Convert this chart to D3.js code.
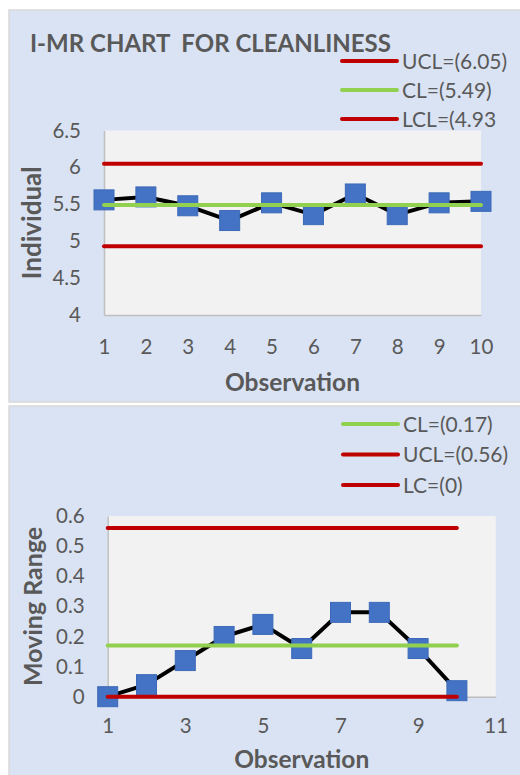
<!DOCTYPE html>
<html>
<head>
<meta charset="utf-8">
<script src="https://cdn.jsdelivr.net/npm/d3@7"></script>
<style>
  html, body { margin: 0; padding: 0; background: #ffffff; }
  svg { display: block; }
  text { font-family: Lato, "Open Sans", sans-serif; fill: #595959; }
</style>
</head>
<body>
<svg id="chart" width="520" height="775"></svg>
<script>
// ---------- data ----------
const observations = [1, 2, 3, 4, 5, 6, 7, 8, 9, 10];
const individualValues = [5.56, 5.60, 5.48, 5.28, 5.52, 5.36, 5.64, 5.36, 5.52, 5.54];
const movingRangeValues = [0, 0.04, 0.12, 0.20, 0.24, 0.16, 0.28, 0.28, 0.16, 0.02];

const iLimits = [
  { name: "UCL", value: 6.05, label: "UCL=(6.05)", color: "#c00000" },
  { name: "CL",  value: 5.49, label: "CL=(5.49)",  color: "#92d050" },
  { name: "LCL", value: 4.93, label: "LCL=(4.93",  color: "#c00000" }
];
const mrLimits = [
  { name: "CL",  value: 0.17, label: "CL=(0.17)",  color: "#92d050" },
  { name: "UCL", value: 0.56, label: "UCL=(0.56)", color: "#c00000" },
  { name: "LC",  value: 0,    label: "LC=(0)",     color: "#c00000" }
];

const iYTicks = [4, 4.5, 5, 5.5, 6, 6.5];
const iXTicks = [1, 2, 3, 4, 5, 6, 7, 8, 9, 10];
const mrYTicks = [0, 0.1, 0.2, 0.3, 0.4, 0.5, 0.6];
const mrXTicks = [1, 3, 5, 7, 9, 11];

const chartTitle = "I-MR CHART  FOR CLEANLINESS";
const iYTitle = "Individual";
const mrYTitle = "Moving Range";
const xTitle = "Observation";

// ---------- drawing ----------
const svg = d3.select("#chart");
const TEXT = "#595959";

function panel(cfg) {
  const g = svg.append("g");
  g.append("rect")
    .attr("x", cfg.panel.x).attr("y", cfg.panel.y)
    .attr("width", cfg.panel.w).attr("height", cfg.panel.h)
    .attr("fill", "#dae3f3").attr("stroke", "#d9d9d9").attr("stroke-width", 1.5);

  const x = d3.scaleLinear().domain(cfg.xDomain).range([cfg.plot.left, cfg.plot.right]);
  const y = d3.scaleLinear().domain(cfg.yDomain).range([cfg.plot.bottom, cfg.plot.top]);

  g.append("rect")
    .attr("x", cfg.plot.left).attr("y", cfg.plot.top)
    .attr("width", cfg.plot.right - cfg.plot.left)
    .attr("height", cfg.plot.bottom - cfg.plot.top)
    .attr("fill", "#f2f2f2");

  const yAxis = g.append("g")
    .attr("transform", `translate(${cfg.plot.left},0)`)
    .call(d3.axisLeft(y).tickValues(cfg.yTicks).tickSize(0).tickPadding(cfg.yPad).tickFormat(d3.format("")));
  const xAxis = g.append("g")
    .attr("transform", `translate(0,${cfg.plot.bottom})`)
    .call(d3.axisBottom(x).tickValues(cfg.xTicks).tickSize(0).tickPadding(cfg.xPad).tickFormat(d3.format("")));
  [yAxis, xAxis].forEach(a => {
    a.select(".domain").attr("stroke", "#bfbfbf").attr("stroke-width", 1.5);
    a.selectAll("text").attr("font-family", "Lato, sans-serif").attr("font-size", 20.5).attr("fill", TEXT);
  });

  const pts = observations.map((o, i) => ({ o, v: cfg.values[i] }));
  g.append("path").datum(pts)
    .attr("fill", "none").attr("stroke", "#000000").attr("stroke-width", 4)
    .attr("stroke-linejoin", "round")
    .attr("d", d3.line().x(d => x(d.o)).y(d => y(d.v)));
  const m = 20;
  g.selectAll("rect.mk").data(pts).join("rect").attr("class", "mk")
    .attr("x", d => x(d.o) - m / 2).attr("y", d => y(d.v) - m / 2)
    .attr("width", m).attr("height", m)
    .attr("fill", "#4472c4").attr("stroke", "#3d6ab8").attr("stroke-width", 1);

  const x0 = observations[0], x1 = observations[observations.length - 1];
  g.selectAll("line.lim").data(cfg.limits).join("line").attr("class", "lim")
    .attr("x1", x(x0)).attr("x2", x(x1))
    .attr("y1", d => y(d.value)).attr("y2", d => y(d.value))
    .attr("stroke", d => d.color).attr("stroke-width", 4).attr("stroke-linecap", "round");

  const lg = g.selectAll("g.lg").data(cfg.limits).join("g").attr("class", "lg")
    .attr("transform", (d, i) => `translate(${cfg.legend.x},${cfg.legend.y + i * cfg.legend.dy})`);
  lg.append("line").attr("x1", 0).attr("x2", 55).attr("y1", 0).attr("y2", 0)
    .attr("stroke", d => d.color).attr("stroke-width", 4).attr("stroke-linecap", "round");
  lg.append("text").attr("x", 60).attr("y", 0).attr("dy", "0.36em")
    .attr("font-size", 21).text(d => d.label);

  g.append("text")
    .attr("transform", `translate(${cfg.yTitle.x},${(cfg.plot.top + cfg.plot.bottom) / 2}) rotate(-90)`)
    .attr("text-anchor", "middle").attr("dy", "0.36em")
    .attr("font-size", cfg.yTitle.size).attr("font-weight", 700).text(cfg.yTitleText);
  g.append("text")
    .attr("x", (cfg.plot.left + cfg.plot.right) / 2).attr("y", cfg.xTitleY)
    .attr("text-anchor", "middle").attr("dy", "0.36em")
    .attr("font-size", 24.5).attr("font-weight", 700).text(xTitle);
  return g;
}

panel({
  panel: { x: 9, y: 10, w: 520, h: 392 },
  plot: { left: 104, right: 481, top: 130.5, bottom: 315 },
  xDomain: [1, 10], yDomain: [4, 6.5],
  xTicks: iXTicks, yTicks: iYTicks, xPad: 24, yPad: 23,
  values: individualValues, limits: iLimits,
  legend: { x: 342, y: 61, dy: 29 },
  yTitle: { x: 32, size: 26 }, yTitleText: iYTitle, xTitleY: 382
});

panel({
  panel: { x: 9, y: 406, w: 520, h: 380 },
  plot: { left: 107.7, right: 495.7, top: 516, bottom: 696.7 },
  xDomain: [1, 11], yDomain: [0, 0.6],
  xTicks: mrXTicks, yTicks: mrYTicks, xPad: 22, yPad: 23,
  values: movingRangeValues, limits: mrLimits,
  legend: { x: 343, y: 424, dy: 30.5 },
  yTitle: { x: 33, size: 25 }, yTitleText: mrYTitle, xTitleY: 759
});

svg.append("text").attr("x", 30).attr("y", 52)
  .attr("xml:space", "preserve").style("white-space", "pre")
  .attr("font-size", 24).attr("font-weight", 700).text(chartTitle);
</script>
</body>
</html>
